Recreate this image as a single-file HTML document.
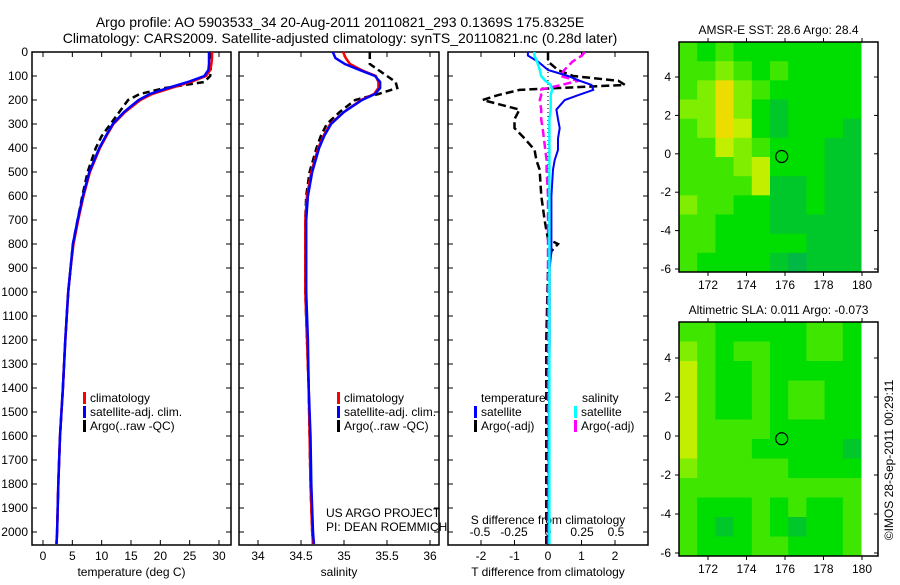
<!DOCTYPE html>
<html><head><meta charset="utf-8"><style>
body{margin:0;background:#fff}
svg text{font-family:"Liberation Sans",sans-serif;fill:#000}
</style></head><body>
<svg id="c" width="900" height="580" viewBox="0 0 900 580" xmlns="http://www.w3.org/2000/svg">
<text x="340" y="27" font-size="14" text-anchor="middle">Argo profile: AO 5903533_34 20-Aug-2011 20110821_293 0.1369S 175.8325E</text>
<text x="340" y="43" font-size="14" text-anchor="middle">Climatology: CARS2009. Satellite-adjusted climatology: synTS_20110821.nc (0.28d later)</text>
<g id="g"></g>
<text transform="translate(893,460) rotate(-90)" font-size="12" text-anchor="middle">©IMOS 28-Sep-2011 00:29:11</text>
</svg>
<script>
// ---- data ----
const depthT = [0,25,50,75,100,125,150,175,200,250,300,350,400,500,600,700,800,900,1000,1200,1400,1600,1800,2000,2050];
const tempClim = [28.8,28.8,28.7,28.5,27.8,25.2,21.8,18.6,16.6,14,12,10.8,9.7,8,6.9,6.0,5.2,4.7,4.3,3.8,3.4,2.9,2.6,2.4,2.3];
const tempSat  = [28.3,28.3,28.3,28.2,27.5,24.7,21.3,18.2,16.3,13.8,11.9,10.7,9.6,7.9,6.8,5.9,5.1,4.7,4.3,3.8,3.4,2.9,2.6,2.4,2.3];
const tempArgo = [28.6,28.6,28.6,28.6,28.5,27.5,20.8,16.5,14.5,13,11.5,10,9,7.6,6.7,5.9,5.1,4.7,4.3,3.8,3.4,2.9,2.6,2.4,2.3];
const depthS = [0,25,50,75,100,125,150,175,200,250,300,350,400,500,600,700,800,1000,1200,1400,1600,1800,2000,2050];
const salClim = [34.99,35.02,35.07,35.2,35.37,35.4,35.4,35.35,35.2,35.0,34.84,34.76,34.7,34.62,34.57,34.55,34.55,34.55,34.57,34.59,34.6,34.61,34.63,34.64];
const salSat  = [34.87,34.9,35.01,35.18,35.36,35.42,35.42,35.36,35.21,35.0,34.85,34.77,34.71,34.63,34.58,34.56,34.56,34.56,34.58,34.59,34.61,34.62,34.64,34.65];
const salArgo = [35.3,35.3,35.3,35.4,35.5,35.6,35.62,35.4,35.13,34.95,34.8,34.73,34.68,34.6,34.56,34.55,34.55,34.55,34.57,34.59,34.6,34.61,34.63,34.64];
const depthD = [0,15,40,75,100,120,137,158,180,200,240,280,317,360,408,450,490,600,700,780,800,830,900,1200,1600,2000,2050];
const tdSat  = [-0.6,-0.6,-0.3,0,0.6,0.95,1.3,1.35,0.9,0.5,0.25,0.3,0.35,0.3,0.3,0.2,0.15,0.1,0.1,0.1,0.1,0.1,0.05,0.05,0.02,0.02,0.02];
const tdArgo = [0,0,0,0.3,0.75,2.1,2.3,-0.85,-1.5,-1.95,-0.85,-1,-1,-0.7,-0.4,-0.35,-0.25,-0.2,-0.1,0,0.3,0.1,0,-0.05,-0.05,-0.05,-0.05];
const sdSat  = [-0.1,-0.1,-0.08,-0.06,-0.05,-0.02,0.02,0.03,0.02,0.02,0.02,0.01,0.01,0.01,0.01,0.01,0.01,0.01,0.01,0.01,0.01,0.01,0.01,0.01,0.01,0.01,0.01];
const sdArgo = [0.27,0.25,0.18,0.12,0.09,0.22,0.1,-0.06,-0.05,-0.06,-0.05,-0.05,-0.04,-0.03,-0.02,-0.01,-0.01,0,0,0,0,0,0,0,0,0,0];
const depthTicks = [0,100,200,300,400,500,600,700,800,900,1000,1100,1200,1300,1400,1500,1600,1700,1800,1900,2000];
const tempTicks = [0,5,10,15,20,25,30];
const salTicks = [34,34.5,35,35.5,36];
const tdTicks = [-2,-1,0,1,2];
const sdTicks = [-0.5,-0.25,0,0.25,0.5];
const latTicks = [4,2,0,-2,-4,-6];
const lonTicks = [172,174,176,178,180];
// map values (rows north->south, lat 6..-6; cols lon 170.6..180)
const sstGrid = [
[3,2,3,2,2,2,2,2,2,2],
[3,3,4,3,2,3,2,2,2,2],
[3,4,6,4,3,2,2,2,2,2],
[4,4,6,4,2,1,2,2,2,2],
[3,4,6,5,2,1,2,2,2,1],
[3,3,5,4,3,2,2,2,1,1],
[3,3,3,4,5,2,2,2,1,1],
[3,3,3,3,5,1,1,2,1,1],
[4,3,3,2,2,1,1,2,1,1],
[3,3,2,2,2,1,1,1,1,1],
[3,3,2,2,2,2,2,1,1,1],
[3,2,2,2,2,1,0,1,1,1]];
const slaGrid = [
[3,3,2,2,2,2,2,3,3,2],
[4,3,2,3,3,2,2,3,3,2],
[5,3,2,2,3,2,2,2,2,2],
[5,3,2,2,3,2,3,3,2,2],
[5,3,2,2,3,2,3,3,2,2],
[5,3,3,3,3,2,2,2,2,2],
[5,3,3,3,2,2,2,2,2,1],
[4,3,3,3,3,3,2,2,2,2],
[3,3,3,3,3,3,3,3,3,3],
[3,2,2,2,3,2,3,2,2,3],
[3,2,1,2,3,2,1,2,2,3],
[3,2,2,2,3,3,2,2,2,3]];
const argoLon = 175.83, argoLat = -0.14;

const NS='http://www.w3.org/2000/svg', G=document.getElementById('g');
function el(t,a,p){const e=document.createElementNS(NS,t);for(const k in a)e.setAttribute(k,a[k]);(p||G).appendChild(e);return e;}
function txt(x,y,s,sz,anc,p){const e=el('text',{x:x,y:y,'font-size':sz,'text-anchor':anc||'middle'},p);e.textContent=s;return e;}
function lin(a,b,c,d){return v=>c+(v-a)*(d-c)/(b-a);}
const yD = lin(0,2000,52,532);
const palette=['#00b844','#00c82a','#00dd00','#3fe600','#80ee00','#c2ee00','#ecdc00','#ee9a00'];

function panel(x0,x1,name,xs,ticks,tickLbl,xlabel){
  const f=el('rect',{x:x0,y:52,width:x1-x0,height:493,fill:'none',stroke:'#000','stroke-width':1.5});
  
  
  depthTicks.forEach(d=>{el('line',{x1:x0,x2:x0+5,y1:yD(d),y2:yD(d),stroke:'#000'});el('line',{x1:x1,x2:x1-5,y1:yD(d),y2:yD(d),stroke:'#000'});});
  ticks.forEach((t,i)=>{const x=xs(t);el('line',{x1:x,x2:x,y1:545,y2:540,stroke:'#000'});el('line',{x1:x,x2:x,y1:52,y2:57,stroke:'#000'});
    if(tickLbl){const l=txt(x,560,tickLbl[i],12);}});
  if(xlabel){const l=txt((x0+x1)/2,576,xlabel,12);}
}
function series(xs,vals,depths,color,dash,name,w){
  const pts=vals.map((v,i)=>xs(v).toFixed(1)+','+yD(depths[i]).toFixed(1)).join(' ');
  const p=el('polyline',{points:pts,fill:'none',stroke:color,'stroke-width':w||2.5,'stroke-dasharray':dash||'none'});
  
  
}
function legend(x,y,items){items.forEach((it,i)=>{el('rect',{x:x,y:y+i*14-10,width:3,height:12,fill:it[0]});
  const t=txt(x+7,y+i*14,it[1],12,'start');});}

depthTicks.forEach(d=>{const t=txt(28,yD(d)+4,String(d),12,'end');});

const xT=lin(0,30,43,219);
panel(32,231,'temperature-panel',xT,tempTicks,tempTicks.map(String),'temperature (deg C)');
series(xT,tempArgo,depthT,'#000','7,4','temp-argo-line',2.5);
series(xT,tempClim,depthT,'#f00',null,'temp-climatology-line');
series(xT,tempSat,depthT,'#00f',null,'temp-satellite-line');
legend(83,402,[['#f00','climatology'],['#00f','satellite-adj. clim.'],['#000','Argo(..raw -QC)']]);

const xS=lin(34,36,258,430);
panel(239,439,'salinity-panel',xS,salTicks,salTicks.map(String),'salinity');
series(xS,salArgo,depthS,'#000','7,4','sal-argo-line',2.5);
series(xS,salClim,depthS,'#f00',null,'sal-climatology-line');
series(xS,salSat,depthS,'#00f',null,'sal-satellite-line');
legend(337,402,[['#f00','climatology'],['#00f','satellite-adj. clim.'],['#000','Argo(..raw -QC)']]);
txt(326,517,'US ARGO PROJECT',12,'start');
txt(326,531,'PI: DEAN ROEMMICH',12,'start');

const xTD=lin(0,1,548,581.5), xSD=lin(0,0.5,548,616);
panel(448,648,'difference-panel',xTD,tdTicks,tdTicks.map(String),'T difference from climatology');
sdTicks.forEach(t=>{const l=txt(xSD(t),536,String(t),12);});
txt(548,524,'S difference from climatology',12);
el('line',{x1:548,x2:548,y1:52,y2:545,stroke:'#000','stroke-dasharray':'1,3'});
series(xTD,tdArgo,depthD,'#000','8,4','tdiff-argo-line',2.5);
series(xSD,sdArgo,depthD,'#f0f','8,4','sdiff-argo-line',2.5);
series(xTD,tdSat,depthD,'#00f',null,'tdiff-satellite-line',2);
series(xSD,sdSat,depthD,'#0ff',null,'sdiff-satellite-line',2.5);
txt(481,402,'temperature',12,'start');
legend(474,416,[['#00f','satellite'],['#000','Argo(-adj)']]);
txt(582,402,'salinity',12,'start');
legend(574,416,[['#0ff','satellite'],['#f0f','Argo(-adj)']]);

function map(top,bot,lat,grid,title,name){
  const left=679,right=878,imgR=861;
  const lon=lin(172,180,708,862);
  const g=el('g',{});
  const nr=grid.length,nc=grid[0].length;
  const cw=(imgR-left)/nc, ch=(bot-top)/nr;
  grid.forEach((row,r)=>row.forEach((v,c)=>{
    const cell=el('rect',{x:left+c*cw,y:top+r*ch,width:cw+0.5,height:ch+0.5,fill:palette[v]},g);
    
  }));
  el('rect',{x:left,y:top,width:right-left,height:bot-top,fill:'none',stroke:'#000','stroke-width':1.5});
  latTicks.forEach(t=>{const y=lat(t);el('line',{x1:left,x2:left-4,y1:y,y2:y,stroke:'#000'});el('line',{x1:right,x2:right-4,y1:y,y2:y,stroke:'#000'});
    txt(left-8,y+4,String(t),12,'end');});
  lonTicks.forEach(t=>{const x=lon(t);el('line',{x1:x,x2:x,y1:bot,y2:bot+4,stroke:'#000'});el('line',{x1:x,x2:x,y1:top,y2:top-4,stroke:'#000'});
    txt(x,bot+17,String(t),12);});
  const ci=el('circle',{cx:lon(argoLon),cy:lat(argoLat),r:6,fill:'none',stroke:'#000','stroke-width':1.2});
  
  txt((left+right)/2,top-8,title,12);
}
map(42,272,lin(4,-6,77,269),sstGrid,'AMSR-E SST: 28.6 Argo: 28.4','sst-map');
map(322,556,lin(2,-6,397,553),slaGrid,'Altimetric SLA: 0.011 Argo: -0.073','sla-map');
</script>
</body></html>
